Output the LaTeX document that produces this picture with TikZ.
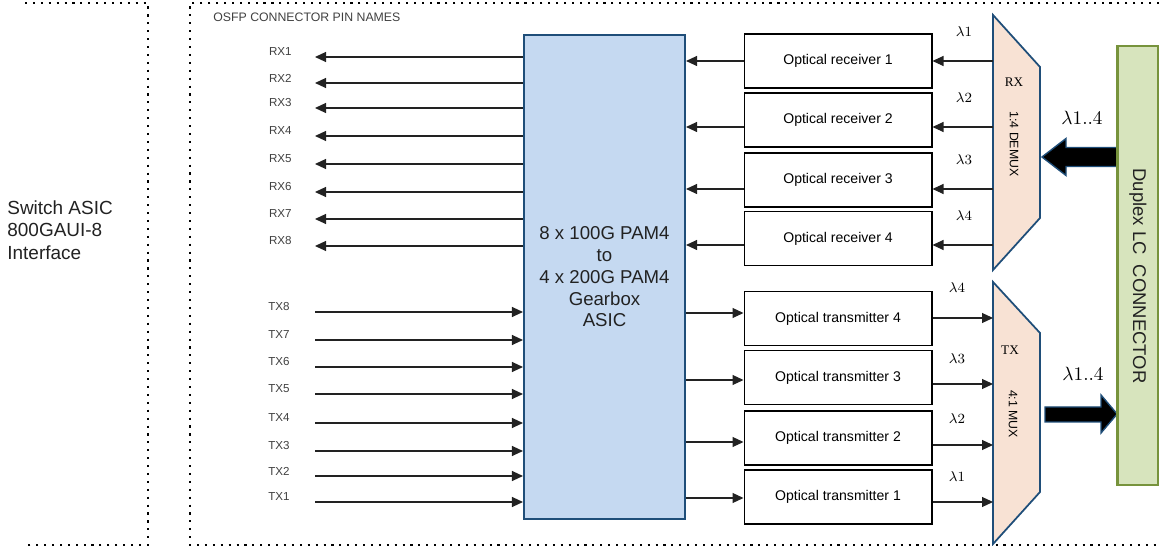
\documentclass[tikz,border=0pt]{standalone}
\usepackage{fontspec}
\setmainfont{Liberation Sans}
\newfontfamily\serifrm{Liberation Serif}
\usetikzlibrary{arrows.meta, positioning, calc}
\definecolor{asicfill}{HTML}{C5D9F1}
\definecolor{navy}{HTML}{1F4E79}
\definecolor{muxfill}{HTML}{F8E2D4}
\definecolor{connfill}{HTML}{D7E4BD}
\definecolor{connline}{HTML}{77933C}
\definecolor{wire}{HTML}{222222}
\definecolor{pin}{HTML}{404040}
\tikzset{
  blk/.style={draw=black, fill=white, line width=0.6pt, minimum width=3.76cm, minimum height=1.08cm,
              inner sep=0pt, font=\fontsize{8}{9}\selectfont},
  flow/.style={-{Stealth[length=2.2mm, width=2mm, inset=0pt]}, line width=0.6pt, color=wire},
  pinlbl/.style={font=\fontsize{6.6}{7}\selectfont, text=pin, anchor=east, inner sep=0pt},
  lam/.style={font=\fontsize{8}{9}\selectfont, inner sep=0pt},
  biglam/.style={font=\fontsize{11}{13}\selectfont, inner sep=0pt},
  fat/.style={fill=black, draw=navy, line width=0.8pt, line join=miter},
  mux/.style={fill=muxfill, draw=navy, line width=1pt},
  frame/.style={line width=1.2pt, dash pattern=on 1.2pt off 3.3pt},
}
\begin{document}
\begin{tikzpicture}[x=0.02cm, y=-0.02cm]
  \useasboundingbox (0,0) rectangle (1159,546);
  % dotted frames
  \draw[frame] (25,3) -- (148,3) -- (148,545) -- (25,545);
  \draw[frame] (1159,3) -- (190,3) -- (190,545) -- (1159,545);
  \node[anchor=west, align=left, inner sep=0pt, text=wire, font=\fontsize{10.8}{12.8}\selectfont] (sw) at (7,230)
    {Switch ASIC\\800GAUI-8\\Interface};
  \node[anchor=west, inner sep=0pt, text=pin, font=\fontsize{7}{8}\selectfont] (osfp) at (213,17)
    {OSFP CONNECTOR PIN NAMES};
  % gearbox
  \node[draw=navy, fill=asicfill, line width=1.2pt, minimum width=3.22cm, minimum height=9.68cm, align=center,
        text=wire, font=\fontsize{10.6}{12.4}\selectfont] (asic) at (604.5,277)
    {8 x 100G PAM4\\to\\4 x 200G PAM4\\Gearbox\\ASIC};
  % pins
  \foreach \i/\y in {1/57,2/83,3/108,4/136,5/164,6/192,7/219,8/246} {
    \node[pinlbl] (rx\i) at (292,\y-5) {RX\i};
    \coordinate (rxend\i) at (315,\y);
    \draw[flow] (asic.west |- rxend\i) -- (rxend\i);
  }
  \foreach \i/\y in {8/312,7/340,6/367,5/394,4/423,3/451,2/476,1/502} {
    \node[pinlbl] (tx\i) at (290,\y-5) {TX\i};
    \coordinate (txstart\i) at (315,\y);
    \draw[flow] (txstart\i) -- (asic.west |- txstart\i);
  }
  % demux / mux
  \filldraw[mux] (993,15) -- (1040,67) -- (1040,218) -- (993,270) -- cycle;
  \filldraw[mux] (993,282) -- (1040,333) -- (1040,492) -- (993,544) -- cycle;
  \coordinate (dmx) at (993,142);
  \coordinate (mx) at (993,413);
  \node[inner sep=0pt, font=\serifrm\fontsize{7.5}{9}\selectfont] (rxlbl) at (1014,82) {RX};
  \node[inner sep=0pt, rotate=-90, font=\fontsize{7}{8}\selectfont] (dmxlbl) at (1014,144) {1:4 DEMUX};
  \node[inner sep=0pt, font=\serifrm\fontsize{7.5}{9}\selectfont] (txlbl) at (1010,350) {TX};
  \node[inner sep=0pt, rotate=-90, font=\fontsize{7}{8}\selectfont] (mxlbl) at (1013,414) {4:1 MUX};
  % receivers
  \foreach \i/\y/\a in {1/61/61,2/120/127,3/180/189,4/238.5/245} {
    \node[blk] (rec\i) at (838,\y) {Optical receiver \i};
    \draw[flow] (rec\i.west |- 0,\a) -- (asic.east |- 0,\a);
    \draw[flow] (dmx |- 0,\a) -- (rec\i.east |- 0,\a);
    \node[lam] (lr\i) at (964,\a-29) {$\lambda\i$};
  }
  % transmitters
  \foreach \i/\y/\a/\b/\l in {4/318.5/313/318/288,3/377.5/380/384/359,2/438/442/445/419,1/497/498/502/477} {
    \node[blk] (tr\i) at (838,\y) {Optical transmitter \i};
    \draw[flow] (asic.east |- 0,\a) -- (tr\i.west |- 0,\a);
    \draw[flow] (tr\i.east |- 0,\b) -- (mx |- 0,\b);
    \node[lam] (lt\i) at (957,\l) {$\lambda\i$};
  }
  % duplex connector
  \node[draw=connline, fill=connfill, line width=1pt, minimum width=0.8cm, minimum height=8.78cm] (conn) at (1138,265.5) {};
  \fill[fat] (conn.west |- 0,147.5) -- (1066,147.5) -- (1066,138.5) -- (1042,157) -- (1066,175.5)
    -- (1066,166.5) -- (conn.west |- 0,166.5);
  \fill[fat] (1045,407) -- (1101,407) -- (1101,395) -- (conn.west |- 0,414) -- (1101,433)
    -- (1101,422) -- (1045,422) -- cycle;
  \draw[draw=connline, line width=1pt] (conn.north west) -- (conn.south west);
  \node[rotate=-90, inner sep=0pt, text=wire, font=\fontsize{10.5}{12}\selectfont] (conntxt) at (1138,276)
    {Duplex LC\ \ CONNECTOR};
  \node[biglam] (lrx) at (1082,118) {$\lambda1..4$};
  \node[biglam] (ltx) at (1083,374) {$\lambda1..4$};
\end{tikzpicture}
\end{document}
